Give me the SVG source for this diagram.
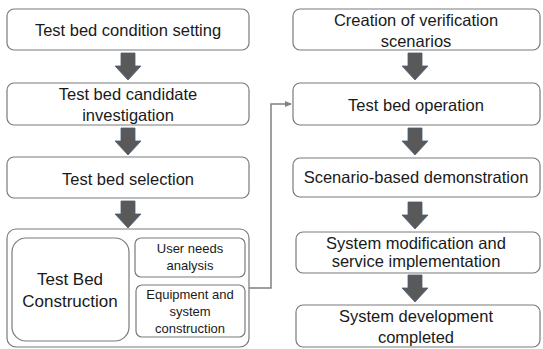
<svg xmlns="http://www.w3.org/2000/svg" width="543" height="349" viewBox="0 0 543 349">
  <defs>
    <style>
      .box { fill: #ffffff; stroke: #7a7a7a; stroke-width: 1.2; }
      .txt { font-family: "Liberation Sans", Arial, sans-serif; font-size: 16.5px; fill: #1a1a1a; text-anchor: middle; }
      .big { font-size: 17px; }
      .sm { font-size: 13px; }
      .blk { fill: #595959; stroke: #4a5f7a; stroke-width: 0.8; }
      .link { fill: none; stroke: #808080; stroke-width: 1.5; }
    </style>
    <marker id="tip" markerWidth="8" markerHeight="8" refX="6" refY="4" orient="auto" markerUnits="userSpaceOnUse">
      <path d="M0,1 L7,4 L0,7 Z" fill="#808080"/>
    </marker>
    <path id="down" d="M-7,0 H7 V13 H13 L0,27 L-13,13 H-7 Z"/>
  </defs>

  <!-- left column -->
  <g id="n-condition">
    <rect class="box" x="7" y="9" width="242" height="41" rx="7"/>
    <text class="txt" x="128" y="36">Test bed condition setting</text>
  </g>
  <g id="n-candidate">
    <rect class="box" x="7" y="83" width="242" height="42" rx="7"/>
    <text class="txt" x="128" y="100">Test bed candidate</text>
    <text class="txt" x="128" y="121">investigation</text>
  </g>
  <g id="n-selection">
    <rect class="box" x="7" y="157" width="242" height="41" rx="7"/>
    <text class="txt" x="128" y="185">Test bed selection</text>
  </g>
  <g id="n-construction">
    <rect class="box" x="7" y="229" width="242" height="118" rx="9"/>
    <rect class="box" x="12" y="238" width="117" height="103" rx="14"/>
    <text class="txt big" x="70" y="285">Test Bed</text>
    <text class="txt big" x="70" y="307">Construction</text>
    <g id="n-needs">
      <rect class="box" x="135" y="238" width="110" height="39" rx="6"/>
      <text class="txt sm" x="190" y="253">User needs</text>
      <text class="txt sm" x="190" y="270">analysis</text>
    </g>
    <g id="n-equipment">
      <rect class="box" x="136" y="285" width="109" height="52" rx="6"/>
      <text class="txt sm" x="190" y="299">Equipment and</text>
      <text class="txt sm" x="190" y="316">system</text>
      <text class="txt sm" x="190" y="333">construction</text>
    </g>
  </g>

  <!-- right column -->
  <g id="n-scenarios">
    <rect class="box" x="293" y="9" width="247" height="41" rx="7"/>
    <text class="txt" x="416" y="26">Creation of verification</text>
    <text class="txt" x="416" y="47">scenarios</text>
  </g>
  <g id="n-operation">
    <rect class="box" x="293" y="83" width="247" height="42" rx="7"/>
    <text class="txt" x="416" y="111">Test bed operation</text>
  </g>
  <g id="n-demonstration">
    <rect class="box" x="293" y="158" width="247" height="39" rx="7"/>
    <text class="txt" x="416" y="183">Scenario-based demonstration</text>
  </g>
  <g id="n-modification">
    <rect class="box" x="296" y="232" width="244" height="41" rx="7"/>
    <text class="txt" x="416" y="249">System modification and</text>
    <text class="txt" x="416" y="267">service implementation</text>
  </g>
  <g id="n-completed">
    <rect class="box" x="296" y="305" width="244" height="42" rx="7"/>
    <text class="txt" x="416" y="322">System development</text>
    <text class="txt" x="416" y="343">completed</text>
  </g>

  <!-- connectors -->
  <g id="connectors">
    <use href="#down" class="blk" x="128" y="53"/>
    <use href="#down" class="blk" x="128" y="128"/>
    <use href="#down" class="blk" x="128" y="201"/>
    <use href="#down" class="blk" x="415" y="53"/>
    <use href="#down" class="blk" x="415" y="128"/>
    <use href="#down" class="blk" x="415" y="202"/>
    <use href="#down" class="blk" x="415" y="275"/>
    <polyline class="link" points="249,288 271,288 271,104 291,104" marker-end="url(#tip)"/>
  </g>
</svg>
